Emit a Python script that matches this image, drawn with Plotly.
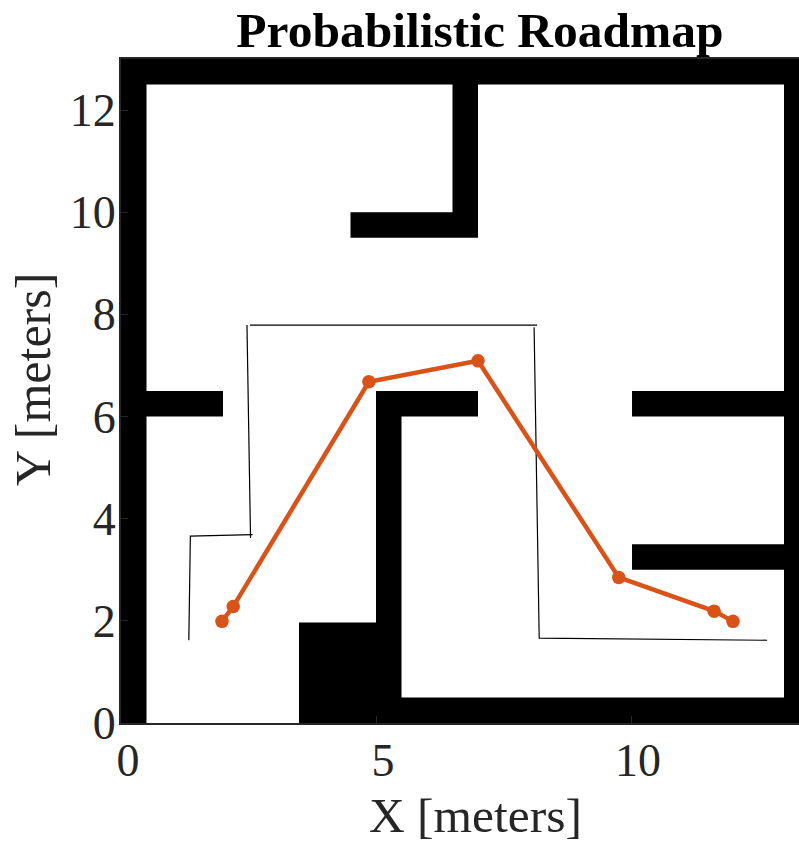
import plotly.graph_objects as go

# Obstacles: (x_min, x_max, y_min, y_max) in meters
wall_x_min = [0.0, 0.0, 13.0, 3.49, 3.49, 5.0, 5.0, 0.0, 10.02, 10.02, 6.5, 4.5]
wall_x_max = [13.5, 0.5, 13.5, 13.5, 5.2, 5.5, 7.0, 2.0, 13.5, 13.5, 7.0, 7.0]
wall_y_min = [12.5, 0.0, 0.0, 0.0, 0.0, 0.0, 6.0, 6.0, 6.0, 3.0, 9.5, 9.5]
wall_y_max = [13.0, 13.0, 13.0, 0.5, 1.97, 6.5, 6.5, 6.5, 6.5, 3.5, 13.0, 10.0]

# Final path
path_x = [1.98, 2.2, 4.86, 7.0, 9.76, 11.63, 12.0]
path_y = [1.99, 2.28, 6.68, 7.09, 2.85, 2.19, 1.99]

# Thin roadmap edges
edge_xs = [[1.33, 1.36, 2.58], [2.47, 2.54], [2.53, 8.16], [8.10, 8.20, 12.67]]
edge_ys = [[1.62, 3.66, 3.69], [7.79, 3.62], [7.79, 7.79], [7.75, 1.66, 1.62]]

x_ticks = [0, 5, 10]
y_ticks = [0, 2, 4, 6, 8, 10, 12]

FONT = "Liberation Serif"
INK = "#262626"

wall_path_x, wall_path_y = [], []
for x0, x1, y0, y1 in zip(wall_x_min, wall_x_max, wall_y_min, wall_y_max):
    wall_path_x += [x0, x1, x1, x0, x0, None]
    wall_path_y += [y0, y0, y1, y1, y0, None]

fig = go.Figure()
fig.add_trace(go.Scatter(x=wall_path_x, y=wall_path_y, mode="lines", fill="toself",
                         fillcolor="black", line=dict(width=0), connectgaps=False,
                         hoverinfo="skip", showlegend=False))
for ex, ey in zip(edge_xs, edge_ys):
    fig.add_trace(go.Scatter(x=ex, y=ey, mode="lines", line=dict(color="black", width=1.2),
                             showlegend=False))
fig.add_trace(go.Scatter(x=path_x, y=path_y, mode="lines+markers",
                         line=dict(color="#D95319", width=4.5),
                         marker=dict(color="#D95319", size=13.5), showlegend=False))

PLOT_L, PLOT_T, PLOT_B = 121, 59, 723
W, H = 799, 843
fig.update_layout(
    width=W, height=H, autosize=False,
    margin=dict(l=PLOT_L, r=0, t=PLOT_T, b=H - PLOT_B),
    paper_bgcolor="white", plot_bgcolor="white",
    font=dict(family=FONT, color=INK),
    title=dict(text="<b>Probabilistic Roadmap</b>", x=480 / W, xanchor="center", xref="container",
               y=1 - 30 / H, yanchor="middle", yref="container",
               font=dict(family=FONT, size=49.5, color="black")),
    xaxis=dict(range=[0, (W - PLOT_L) / 51.0], tickmode="array", tickvals=x_ticks,
               ticks="inside", ticklen=7, tickwidth=1, tickcolor=INK,
               showline=True, linecolor=INK, linewidth=2, mirror=True, showgrid=False, zeroline=False,
               tickfont=dict(family=FONT, size=46, color=INK), ticklabelshift=7, ticklabelstandoff=-4,
               layer="above traces"),
    yaxis=dict(range=[0, 13], tickmode="array", tickvals=y_ticks,
               ticks="inside", ticklen=7, tickwidth=1, tickcolor=INK,
               showline=True, linecolor=INK, linewidth=2, showgrid=False, zeroline=False,
               tickfont=dict(family=FONT, size=46, color=INK), ticklabelstandoff=-6,
               layer="above traces"),
    annotations=[
        dict(text="X [meters]", xref="paper", yref="paper", x=(475 - PLOT_L) / (W - PLOT_L),
             y=(PLOT_B - 815) / (PLOT_B - PLOT_T), xanchor="center", yanchor="middle",
             showarrow=False, font=dict(family=FONT, size=49.5, color=INK)),
        dict(text="Y [meters]", xref="paper", yref="paper", x=(33 - PLOT_L) / (W - PLOT_L),
             y=(PLOT_B - 380) / (PLOT_B - PLOT_T), xanchor="center", yanchor="middle", textangle=-90,
             showarrow=False, font=dict(family=FONT, size=50, color=INK)),
    ],
)
fig.write_html("out.html", config=dict(displayModeBar=False),
               post_script="document.body.style.margin='0';document.body.style.overflow='hidden';")
